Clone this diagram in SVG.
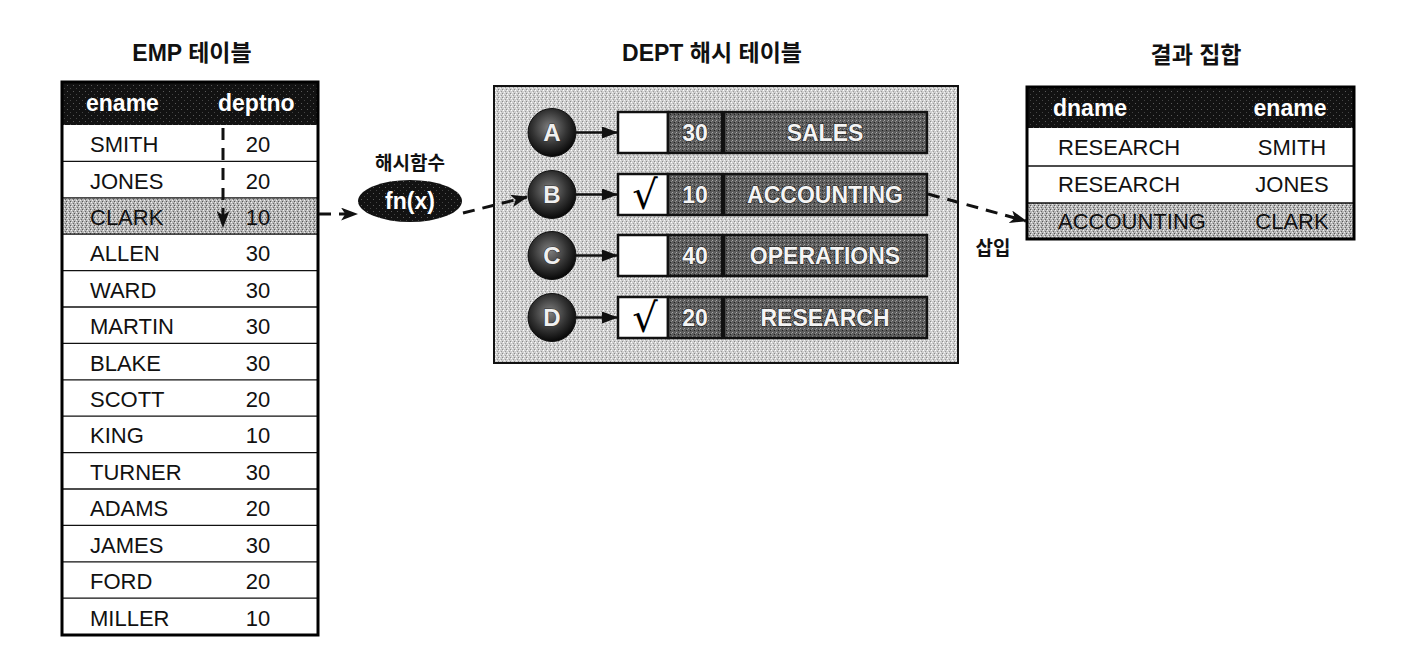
<svg xmlns="http://www.w3.org/2000/svg" width="1420" height="660" viewBox="0 0 1420 660">
<defs>
<style>
.title{font-family:"Liberation Sans","Noto Sans CJK KR",sans-serif;font-weight:bold;font-size:23px;fill:#111}
.hdr{font-family:"Liberation Sans",Arial,sans-serif;font-weight:bold;font-size:23px;fill:#fff}
.cell{font-family:"Liberation Sans",Arial,sans-serif;font-size:22px;fill:#111}
.dtx{font-family:"Liberation Sans",Arial,sans-serif;font-weight:bold;font-size:23px;fill:#f4f4f4;stroke:#222;stroke-width:1.2;paint-order:stroke}
.ltr{font-family:"Liberation Sans",Arial,sans-serif;font-weight:bold;font-size:24px;fill:#f0f0f0;stroke:#333;stroke-width:1.2;paint-order:stroke}
.chk{font-family:"DejaVu Serif","Liberation Serif",serif;font-size:40px;fill:#000}
.rowline{stroke:#111;stroke-width:1.3}
.dash{fill:none;stroke:#111;stroke-width:3;stroke-dasharray:12 8}
.solid{fill:none;stroke:#111;stroke-width:2.5}
</style>
<pattern id="pLight" width="4" height="4" patternUnits="userSpaceOnUse">
<rect width="4" height="4" fill="#cfcfcf"/>
<rect x="0" y="0" width="1" height="1" fill="#f4f4f4"/>
<rect x="2" y="1" width="1" height="1" fill="#8a8a8a"/>
<rect x="1" y="3" width="1" height="1" fill="#9a9a9a"/>
<rect x="3" y="2" width="1" height="1" fill="#ffffff"/>
</pattern>
<pattern id="pMid" width="4" height="4" patternUnits="userSpaceOnUse">
<rect width="4" height="4" fill="#b6b6b6"/>
<rect x="0" y="0" width="1" height="1" fill="#eee"/>
<rect x="2" y="1" width="1" height="1" fill="#555"/>
<rect x="1" y="3" width="1" height="1" fill="#666"/>
<rect x="3" y="2" width="1" height="1" fill="#f2f2f2"/>
</pattern>
<pattern id="pDark" width="4" height="4" patternUnits="userSpaceOnUse">
<rect width="4" height="4" fill="#5c5c5c"/>
<rect x="0" y="0" width="1" height="1" fill="#a8a8a8"/>
<rect x="2" y="2" width="1" height="1" fill="#202020"/>
<rect x="3" y="1" width="1" height="1" fill="#8c8c8c"/>
</pattern>
<pattern id="pBlack" width="6" height="6" patternUnits="userSpaceOnUse">
<rect width="6" height="6" fill="#121212"/>
<rect x="1" y="1" width="1" height="1" fill="#5a5a5a"/>
<rect x="4" y="4" width="1" height="1" fill="#444"/>
</pattern>
<radialGradient id="ball" cx="0.45" cy="0.4" r="0.6">
<stop offset="0" stop-color="#808080"/>
<stop offset="0.6" stop-color="#333"/>
<stop offset="1" stop-color="#080808"/>
</radialGradient>
<marker id="ah" viewBox="0 0 16 12" markerWidth="17" markerHeight="13" refX="15" refY="6" orient="auto" markerUnits="userSpaceOnUse">
<path d="M0,0 L16,6 L0,12 L4,6 z" fill="#111"/>
</marker>
<marker id="ahs" viewBox="0 0 16 12" markerWidth="16" markerHeight="12" refX="15" refY="6" orient="auto" markerUnits="userSpaceOnUse">
<path d="M0,0 L16,6 L0,12 z" fill="#111"/>
</marker>
</defs>
<rect width="1420" height="660" fill="#fff"/>

<!-- titles -->
<text class="title" x="192" y="61" text-anchor="middle">EMP 테이블</text>
<text class="title" x="712" y="61" text-anchor="middle">DEPT 해시 테이블</text>
<text class="title" x="1196" y="63" text-anchor="middle">결과 집합</text>

<!-- EMP table -->
<g id="emp">
<rect x="62" y="82" width="256" height="43" fill="url(#pBlack)"/>
<rect x="63" y="198" width="254" height="36.4" fill="url(#pMid)"/>
<text class="hdr" x="86" y="111">ename</text>
<text class="hdr" x="218" y="111">deptno</text>
<g class="rowline">
<line x1="62" y1="161.4" x2="318" y2="161.4"/>
<line x1="62" y1="197.8" x2="318" y2="197.8"/>
<line x1="62" y1="234.2" x2="318" y2="234.2"/>
<line x1="62" y1="270.6" x2="318" y2="270.6"/>
<line x1="62" y1="307" x2="318" y2="307"/>
<line x1="62" y1="343.4" x2="318" y2="343.4"/>
<line x1="62" y1="379.8" x2="318" y2="379.8"/>
<line x1="62" y1="416.2" x2="318" y2="416.2"/>
<line x1="62" y1="452.6" x2="318" y2="452.6"/>
<line x1="62" y1="489" x2="318" y2="489"/>
<line x1="62" y1="525.4" x2="318" y2="525.4"/>
<line x1="62" y1="561.8" x2="318" y2="561.8"/>
<line x1="62" y1="598.2" x2="318" y2="598.2"/>
</g>
<g class="cell">
<text x="90" y="152">SMITH</text><text x="258" y="152" text-anchor="middle">20</text>
<text x="90" y="189">JONES</text><text x="258" y="189" text-anchor="middle">20</text>
<text x="90" y="225">CLARK</text><text x="258" y="225" text-anchor="middle">10</text>
<text x="90" y="261">ALLEN</text><text x="258" y="261" text-anchor="middle">30</text>
<text x="90" y="298">WARD</text><text x="258" y="298" text-anchor="middle">30</text>
<text x="90" y="334">MARTIN</text><text x="258" y="334" text-anchor="middle">30</text>
<text x="90" y="371">BLAKE</text><text x="258" y="371" text-anchor="middle">30</text>
<text x="90" y="407">SCOTT</text><text x="258" y="407" text-anchor="middle">20</text>
<text x="90" y="443">KING</text><text x="258" y="443" text-anchor="middle">10</text>
<text x="90" y="480">TURNER</text><text x="258" y="480" text-anchor="middle">30</text>
<text x="90" y="516">ADAMS</text><text x="258" y="516" text-anchor="middle">20</text>
<text x="90" y="553">JAMES</text><text x="258" y="553" text-anchor="middle">30</text>
<text x="90" y="589">FORD</text><text x="258" y="589" text-anchor="middle">20</text>
<text x="90" y="626">MILLER</text><text x="258" y="626" text-anchor="middle">10</text>
</g>
<rect x="62" y="82" width="256" height="553" fill="none" stroke="#000" stroke-width="3"/>
</g>

<!-- hash function -->
<g id="hashfn">
<text class="title" x="410" y="170" text-anchor="middle" style="font-size:19px">해시함수</text>
<ellipse cx="410" cy="201" rx="52" ry="21" fill="url(#pBlack)"/>
<text class="hdr" x="410" y="209" text-anchor="middle">fn(x)</text>
</g>

<!-- DEPT hash table -->
<g id="dept">
<rect x="494" y="86" width="464" height="277" fill="url(#pLight)" stroke="#111" stroke-width="2"/>
</g>
<g id="bucketA">
<circle cx="552" cy="132.5" r="24" fill="url(#ball)" stroke="#111" stroke-width="1"/>
<text class="ltr" x="552" y="141" text-anchor="middle">A</text>
<rect x="618" y="112" width="50" height="41" fill="#fff" stroke="#111" stroke-width="2.5"/>
<rect x="668" y="112" width="54" height="41" fill="url(#pDark)" stroke="#111" stroke-width="2.5"/>
<rect x="724" y="112" width="203" height="41" fill="url(#pDark)" stroke="#111" stroke-width="2.5"/>
<text class="dtx" x="695" y="141" text-anchor="middle">30</text>
<text class="dtx" x="825" y="141" text-anchor="middle">SALES</text>
</g>
<g id="bucketB">
<circle cx="552" cy="194.5" r="24" fill="url(#ball)" stroke="#111" stroke-width="1"/>
<text class="ltr" x="552" y="203" text-anchor="middle">B</text>
<rect x="618" y="174" width="50" height="41" fill="#fff" stroke="#111" stroke-width="2.5"/>
<rect x="668" y="174" width="54" height="41" fill="url(#pDark)" stroke="#111" stroke-width="2.5"/>
<rect x="724" y="174" width="203" height="41" fill="url(#pDark)" stroke="#111" stroke-width="2.5"/>
<text class="chk" x="645" y="209" text-anchor="middle">√</text>
<text class="dtx" x="695" y="203" text-anchor="middle">10</text>
<text class="dtx" x="825" y="203" text-anchor="middle">ACCOUNTING</text>
</g>
<g id="bucketC">
<circle cx="552" cy="255.5" r="24" fill="url(#ball)" stroke="#111" stroke-width="1"/>
<text class="ltr" x="552" y="264" text-anchor="middle">C</text>
<rect x="618" y="235" width="50" height="41" fill="#fff" stroke="#111" stroke-width="2.5"/>
<rect x="668" y="235" width="54" height="41" fill="url(#pDark)" stroke="#111" stroke-width="2.5"/>
<rect x="724" y="235" width="203" height="41" fill="url(#pDark)" stroke="#111" stroke-width="2.5"/>
<text class="dtx" x="695" y="264" text-anchor="middle">40</text>
<text class="dtx" x="825" y="264" text-anchor="middle">OPERATIONS</text>
</g>
<g id="bucketD">
<circle cx="552" cy="317.5" r="24" fill="url(#ball)" stroke="#111" stroke-width="1"/>
<text class="ltr" x="552" y="326" text-anchor="middle">D</text>
<rect x="618" y="297" width="50" height="41" fill="#fff" stroke="#111" stroke-width="2.5"/>
<rect x="668" y="297" width="54" height="41" fill="url(#pDark)" stroke="#111" stroke-width="2.5"/>
<rect x="724" y="297" width="203" height="41" fill="url(#pDark)" stroke="#111" stroke-width="2.5"/>
<text class="chk" x="645" y="332" text-anchor="middle">√</text>
<text class="dtx" x="695" y="326" text-anchor="middle">20</text>
<text class="dtx" x="825" y="326" text-anchor="middle">RESEARCH</text>
</g>

<!-- result table -->
<g id="result">
<rect x="1027" y="87" width="327" height="41" fill="url(#pBlack)"/>
<rect x="1028" y="203" width="325" height="36" fill="url(#pMid)"/>
<text class="hdr" x="1053" y="116">dname</text>
<text class="hdr" x="1290" y="116" text-anchor="middle">ename</text>
<line class="rowline" x1="1027" y1="166" x2="1354" y2="166"/>
<line class="rowline" x1="1027" y1="203" x2="1354" y2="203"/>
<g class="cell">
<text x="1058" y="155">RESEARCH</text><text x="1292" y="155" text-anchor="middle">SMITH</text>
<text x="1058" y="192">RESEARCH</text><text x="1292" y="192" text-anchor="middle">JONES</text>
<text x="1058" y="229">ACCOUNTING</text><text x="1292" y="229" text-anchor="middle">CLARK</text>
</g>
<rect x="1027" y="87" width="327" height="152" fill="none" stroke="#000" stroke-width="3"/>
</g>

<text class="title" x="993" y="255" text-anchor="middle" style="font-size:19px">삽입</text>

<!-- connectors -->
<g id="connectors">
<line class="dash" x1="223" y1="128" x2="223" y2="227" stroke-dasharray="15 7" marker-end="url(#ah)"/>
<line class="dash" x1="319" y1="214" x2="357" y2="214" marker-end="url(#ah)"/>
<line class="dash" x1="463" y1="213" x2="527" y2="197" marker-end="url(#ah)"/>
<line class="solid" x1="576" y1="132.5" x2="617" y2="132.5" marker-end="url(#ahs)"/>
<line class="solid" x1="576" y1="194.5" x2="617" y2="194.5" marker-end="url(#ahs)"/>
<line class="solid" x1="576" y1="255.5" x2="617" y2="255.5" marker-end="url(#ahs)"/>
<line class="solid" x1="576" y1="317.5" x2="617" y2="317.5" marker-end="url(#ahs)"/>
<line class="dash" x1="928" y1="194" x2="1026" y2="221" marker-end="url(#ah)"/>
</g>
</svg>
